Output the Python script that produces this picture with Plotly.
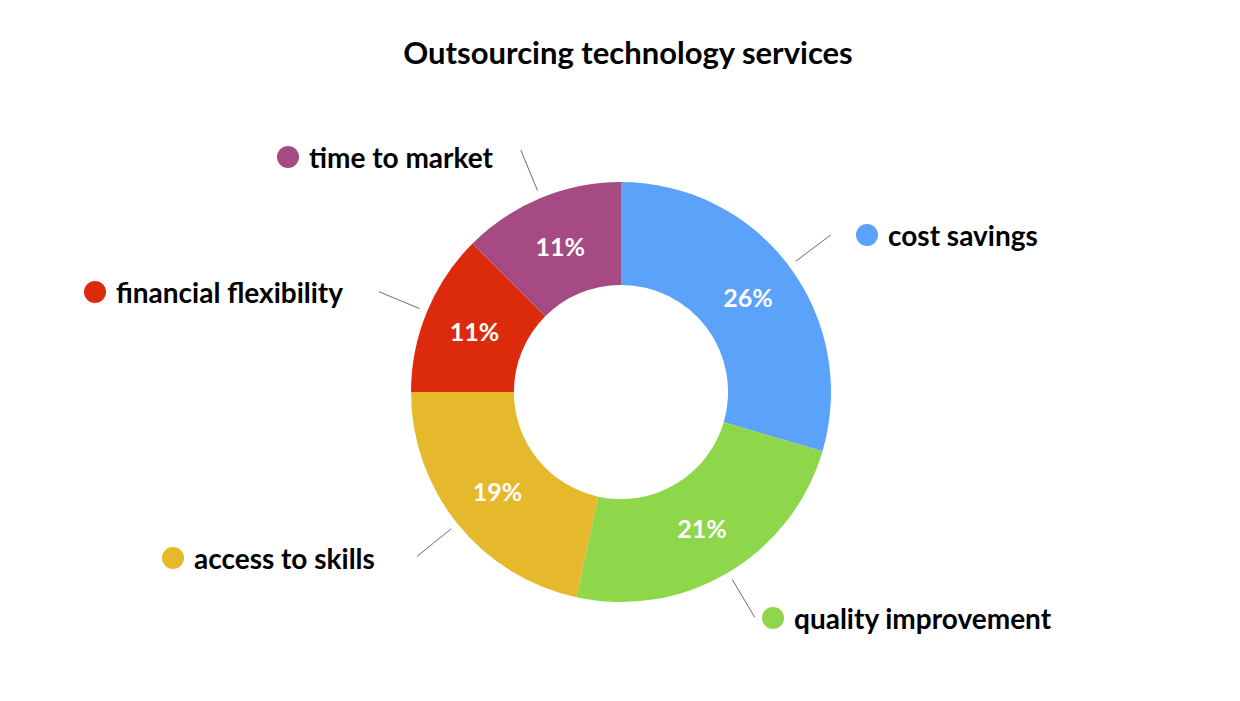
import math
import plotly.graph_objects as go

# Datos
labels = ['cost savings', 'quality improvement', 'access to skills', 'financial flexibility', 'time to market']
values = [26, 21, 19, 11, 11]
colors = ['#5BA2FB', '#8ED64A', '#E6B82B', '#DC2B0C', '#A54A82']

W, H = 1240, 701
OFF = 8  # margen del body de la página
cx, cy, r_out = 621 - OFF, 392 - OFF, 210
FONT = 'Lato'

def px(x, y):
    return x / W, 1 - y / H

fig = go.Figure(go.Pie(
    labels=labels, values=values, hole=0.51, sort=False, direction='clockwise', rotation=0,
    marker=dict(colors=colors, line=dict(width=0)),
    text=[f'{v}%' for v in values], textinfo='text', textposition='inside',
    insidetextorientation='horizontal',
    textfont=dict(family=FONT, size=25, color='white', weight='bold'),
    domain=dict(x=[(cx - r_out) / W, (cx + r_out) / W], y=[1 - (cy + r_out) / H, 1 - (cy - r_out) / H]),
    hoverinfo='label+value', showlegend=False,
))

# Etiquetas externas: posición del punto (px)
label_pos = [(867, 235), (773, 618), (173, 558), (95, 292), (288, 157)]
total = sum(values)
acc = 0
shapes, annos = [], []
for i, v in enumerate(values):
    mid = (acc + v / 2) / total * 2 * math.pi
    acc += v
    x1, y1 = cx + 218 * math.sin(mid), cy - 218 * math.cos(mid)
    x2, y2 = cx + 262 * math.sin(mid), cy - 262 * math.cos(mid)
    a, b = px(x1, y1)
    c, d = px(x2, y2)
    shapes.append(dict(type='line', xref='paper', yref='paper', x0=a, y0=b, x1=c, y1=d,
                       line=dict(color='#444', width=0.8)))
    dx, dy = label_pos[i][0] - OFF, label_pos[i][1] - OFF
    shapes.append(dict(type='circle', xref='paper', yref='paper',
                       x0=(dx - 11) / W, x1=(dx + 11) / W, y0=1 - (dy + 11) / H, y1=1 - (dy - 11) / H,
                       fillcolor=colors[i], line=dict(width=0)))
    tx, ty = px(dx + 19, dy)
    annos.append(dict(text=labels[i], x=tx, y=ty, xref='paper', yref='paper', showarrow=False,
                      xanchor='left', yanchor='middle',
                      font=dict(family=FONT, size=28, color='black', weight='bold')))

fig.update_layout(
    width=W, height=H, paper_bgcolor='white', plot_bgcolor='white',
    margin=dict(l=0, r=0, t=0, b=0),
    title=dict(text='Outsourcing technology services', x=0.5, xanchor='center', y=1 - (53 - OFF) / H,
               yanchor='middle', font=dict(family=FONT, size=31, color='black', weight='bold')),
    shapes=shapes, annotations=annos,
)

fig.write_html('out.html')
